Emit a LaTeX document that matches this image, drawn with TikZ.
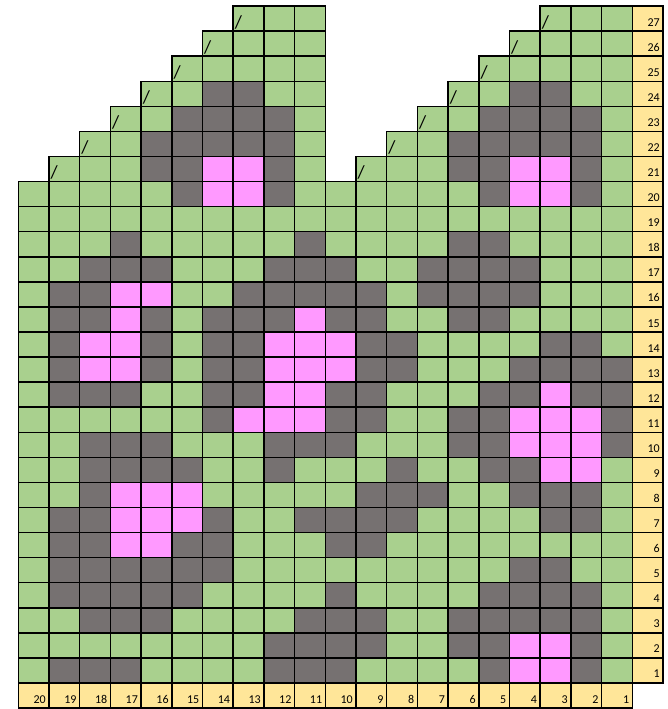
\documentclass[tikz,border=0pt]{standalone}
\usepackage{fontspec}
\setmainfont{Carlito}
\definecolor{gcol}{HTML}{A9D08E}
\definecolor{dcol}{HTML}{767171}
\definecolor{pcol}{HTML}{FF99FF}
\definecolor{ycol}{HTML}{FFE699}
\newcount\colidx
\def\rr{0}
\newcommand\chartrow[2]{\def\rr{#1}\global\colidx=0 \parsecells#2\relax}
\def\parsecells#1{\ifx#1\relax\else\csname kcell#1\endcsname\global\advance\colidx by 1 \expandafter\parsecells\fi}
\def\kcellG{\path[cellbox,fill=gcol] (\the\colidx,\rr-1) rectangle ++(1,1);}
\def\kcellD{\path[cellbox,fill=dcol] (\the\colidx,\rr-1) rectangle ++(1,1);}
\def\kcellP{\path[cellbox,fill=pcol] (\the\colidx,\rr-1) rectangle ++(1,1);}
\def\kcellS{\path[cellbox,fill=gcol] (\the\colidx,\rr-1) rectangle ++(1,1);
  \node[slashtxt] (s\rr x\the\colidx) at (\the\colidx,\rr-1) {/};}
\expandafter\def\csname kcell.\endcsname{}
\begin{document}
\begin{tikzpicture}[
  cellbox/.style={draw=black,line width=1.5pt},
  labtxt/.style={font=\fontsize{12}{14}\selectfont,anchor=base east,inner sep=0pt,xshift=-3pt,yshift=5pt},
  slashtxt/.style={font=\fontsize{18.5}{20}\selectfont,anchor=base west,inner sep=0pt,xshift=1.5pt,yshift=3pt}]
\useasboundingbox (0,0) rectangle (668pt,709pt);
\begin{scope}[shift={(18.3pt,26pt)},x=30.7pt,y=25.07pt]
\chartrow{27}{.......SGG.......SGG}
\chartrow{26}{......SGGG......SGGG}
\chartrow{25}{.....SGGGG.....SGGGG}
\chartrow{24}{....SGDDGG....SGDDGG}
\chartrow{23}{...SGDDDDG...SGDDDDG}
\chartrow{22}{..SGDDDDDG..SGDDDDDG}
\chartrow{21}{.SGGDDPPDG.SGGDDPPDG}
\chartrow{20}{GGGGGDPPDGGGGGGDPPDG}
\chartrow{19}{GGGGGGGGGGGGGGGGGGGG}
\chartrow{18}{GGGDGGGGGDGGGGDDGGGG}
\chartrow{17}{GGDDDGGGDDDGGDDDDGGG}
\chartrow{16}{GDDPPGGDDDDDGDDDDGGG}
\chartrow{15}{GDDPDGDDDPDDGGDDGGGG}
\chartrow{14}{GDPPDGDDPPPDDGGGGDDG}
\chartrow{13}{GDPPDGDDPPPDDGGGDDDD}
\chartrow{12}{GDDDGGDDPPDDGGGDDPDD}
\chartrow{11}{GGGGGGDPPPDDGGDDPPPD}
\chartrow{10}{GGDDDGGGDDDGGGDDPPPD}
\chartrow{9}{GGDDDDGGDGGGDGGDDPPG}
\chartrow{8}{GGDPPPGGGGGDDDGGDDDG}
\chartrow{7}{GDDPPPDGGDDDDGGGGDDG}
\chartrow{6}{GDDPPDDGGGDDGGGGGGGG}
\chartrow{5}{GDDDDDDGGGGGGGGGDDGG}
\chartrow{4}{GDDDDDGGGGDGGGGDDDDG}
\chartrow{3}{GGDDDGGGGDDDGGDDDDDG}
\chartrow{2}{GGGGGGGGDDDDGGDDPPDG}
\chartrow{1}{GDDDGGGGDDDGGGGDPPDG}
% row numbers
\foreach \r in {1,...,27}{
  \path[cellbox,fill=ycol] (20,\r-1) rectangle ++(1,1);
  \node[labtxt] (r\r) at (21,\r-1) {\r};
}
% column numbers
\foreach \c in {1,...,20}{
  \path[cellbox,fill=ycol] (20-\c,-1) rectangle ++(1,1);
  \node[labtxt] (c\c) at (21-\c,-1) {\c};
}
\end{scope}
\end{tikzpicture}
\end{document}
